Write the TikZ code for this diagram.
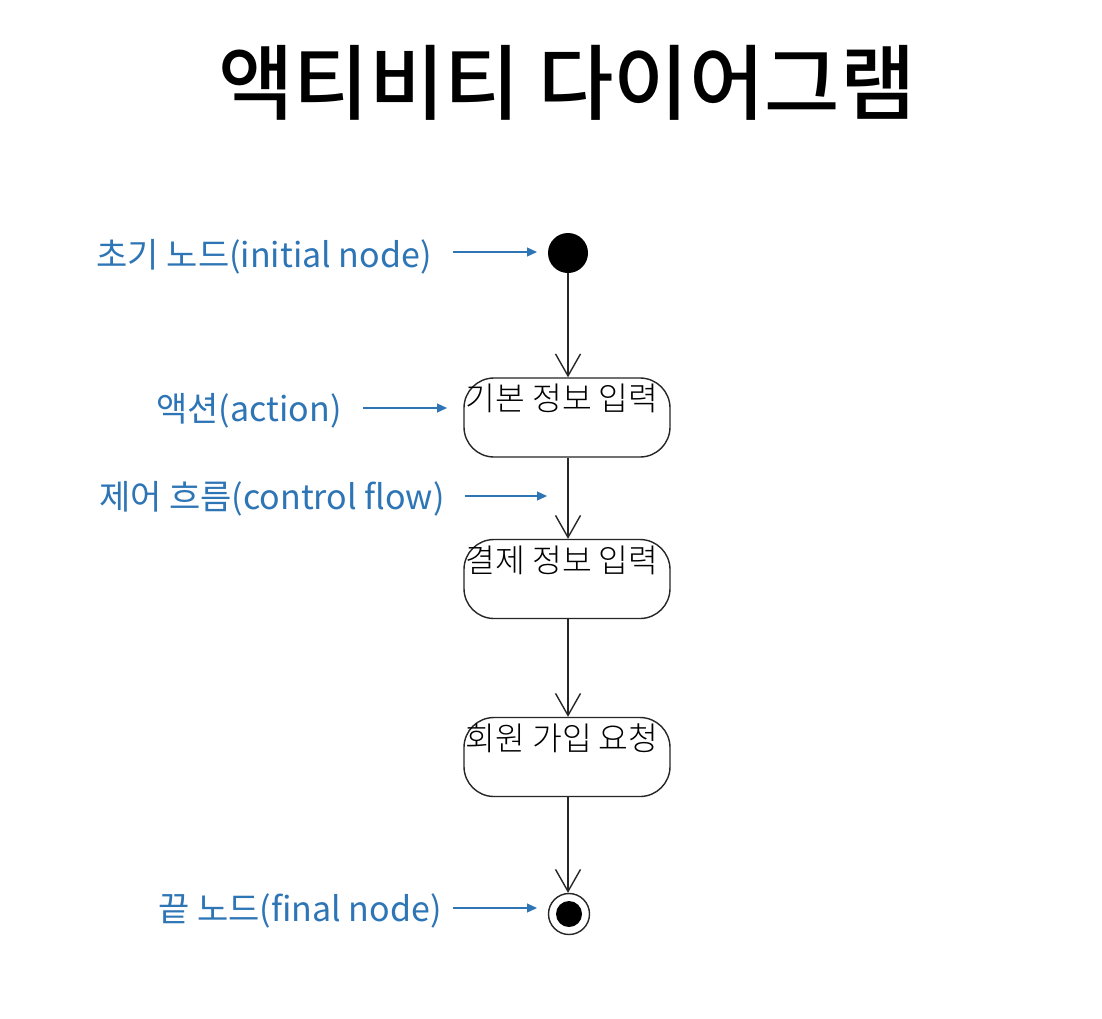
\documentclass[tikz,border=0pt]{standalone}
\usepackage{fontspec}
\setmainfont{Noto Sans CJK KR}
\newfontfamily\krfont{Noto Sans CJK KR}
\newfontfamily\krlight{Noto Sans CJK KR Light}
\newfontfamily\krbold{Noto Sans CJK KR Medium}
\usetikzlibrary{arrows.meta}
\definecolor{annblue}{HTML}{2E75B6}
\tikzset{
  actbox/.style={draw=black!85, line width=0.7pt, rounded corners=15pt, minimum width=103pt, minimum height=39.5pt, inner sep=0pt},
  acttext/.style={font=\krlight\fontsize{16.2pt}{18pt}\selectfont, inner sep=0pt, anchor=north},
  flow/.style={draw=black!85, line width=0.7pt, -{Straight Barb[length=11pt,width=12.5pt,line width=0.7pt]}},
  ann/.style={font=\krfont\fontsize{17pt}{19pt}\selectfont, text=annblue, inner sep=0pt},
  annarrow/.style={draw=annblue, line width=0.6pt, -{Triangle[length=5pt,width=4.5pt]}},
}
\begin{document}
\begin{tikzpicture}[x=0.5pt,y=-0.5pt]
\useasboundingbox (0,0) rectangle (1102,1018);
\fill[white] (0,0) rectangle (1102,1018);
% title
\node[font=\krbold\fontsize{41pt}{45pt}\selectfont, inner sep=0pt] (title) at (567,83) {액티비티 다이어그램};
% initial node
\node[circle, fill=black, minimum size=20pt, inner sep=0pt] (init) at (568,253) {};
% boxes
\node[actbox] (b1) at (567,417.5) {};
\node[acttext] (t1) at (562,384) {기본 정보 입력};
\node[actbox] (b2) at (567,579) {};
\node[acttext] (t2) at (562,546) {결제 정보 입력};
\node[actbox] (b3) at (567,757) {};
\node[acttext] (t3) at (562,723) {회원 가입 요청};
% final node
\node[circle, draw=black!85, line width=0.7pt, minimum size=20.5pt, inner sep=0pt] (fin) at (569,914) {};
\node[circle, fill=black, minimum size=13pt, inner sep=0pt] (fininner) at (fin) {};
% flows
\draw[flow] (init.south) -- (init.south |- b1.north);
\draw[flow] (b1.south -| init) -- (init |- b2.north);
\draw[flow] (b2.south -| init) -- (init |- b3.north);
\draw[flow] (b3.south -| init) -- (init |- fin.north);
% annotations
\node[ann, anchor=east] (a1) at (432,257) {초기 노드(initial node)};
\coordinate (a1s) at (453,252);
\coordinate (a1e) at (537,252);
\draw[annarrow] (a1s) -- (a1e);
\node[ann, anchor=east] (a2) at (342,411) {액션(action)};
\coordinate (a2s) at (363,408);
\coordinate (a2e) at (447,408);
\draw[annarrow] (a2s) -- (a2e);
\node[ann, anchor=east] (a3) at (445,499) {제어 흐름(control flow)};
\coordinate (a3s) at (465,496);
\coordinate (a3e) at (547,496);
\draw[annarrow] (a3s) -- (a3e);
\node[ann, anchor=east] (a4) at (442,911) {끝 노드(final node)};
\coordinate (a4s) at (453,908);
\coordinate (a4e) at (537,908);
\draw[annarrow] (a4s) -- (a4e);
\end{tikzpicture}
\end{document}
